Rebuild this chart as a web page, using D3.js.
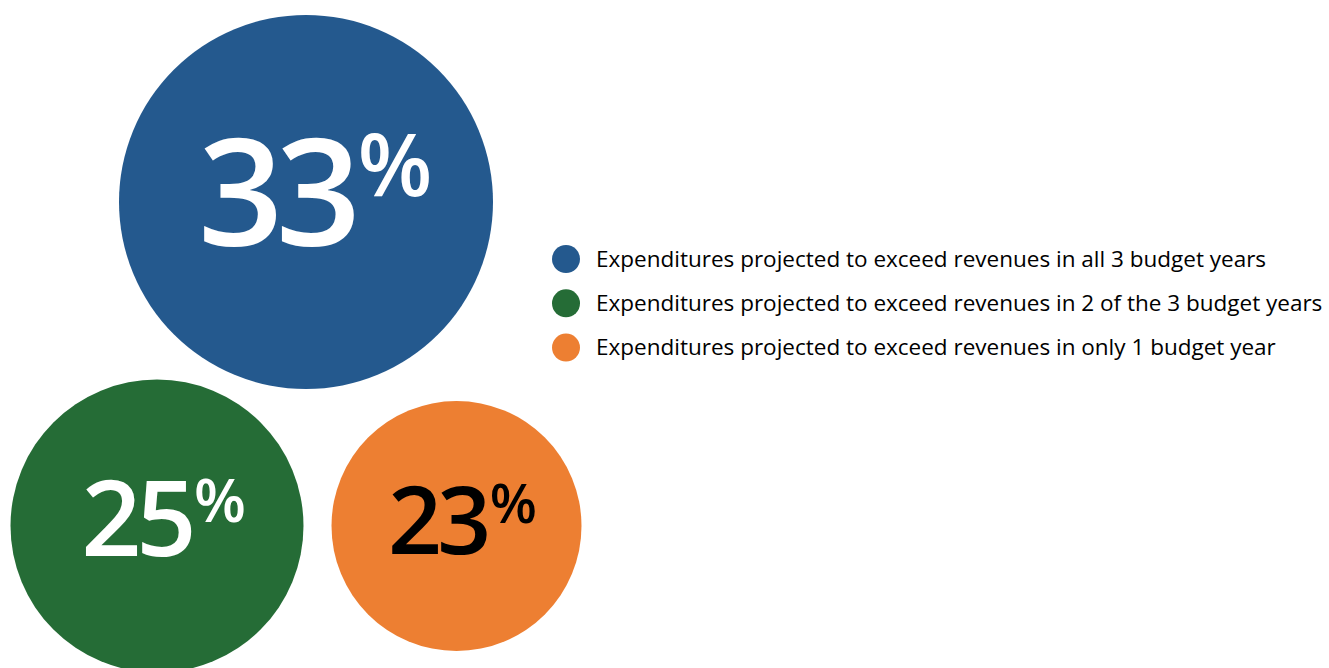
<!DOCTYPE html>
<html>
<head>
<meta charset="utf-8">
<script src="https://cdn.jsdelivr.net/npm/d3@7"></script>
<style>
  html, body { margin: 0; padding: 0; background: #ffffff; }
  svg { display: block; }
</style>
</head>
<body>
<svg id="chart" width="1329" height="668"></svg>
<script>
// Share of budgets where expenditures exceed revenues
const categories = [
  "Expenditures projected to exceed revenues in all 3 budget years",
  "Expenditures projected to exceed revenues in 2 of the 3 budget years",
  "Expenditures projected to exceed revenues in only 1 budget year"
];
const values = [33, 25, 23];
const colors = ["#24598e", "#256c36", "#ed7f32"];
const labelColors = ["#ffffff", "#ffffff", "#000000"];

const svg = d3.select("#chart");
const NUM_FONT = "'Open Sans', sans-serif";
const NUM_WEIGHT = 600;

// bubble radius and label digit height from the percentage
const rScale = d3.scaleLinear().domain([23, 25, 33]).range([125, 146.5, 187]);
const digitScale = d3.scaleLinear().domain([23, 25, 33]).range([69, 76, 109]);

// bubble placement: largest on top, the other two side by side below it
const centers = [
  { x: 306, y: 202 },
  { x: 157, y: 526 },
  { x: 456.5, y: 526 }
];

const data = values.map((v, i) => ({
  value: v, cat: categories[i], color: colors[i], label: labelColors[i],
  cx: centers[i].x, cy: centers[i].y, r: rScale(v), h: digitScale(v)
}));

// ink metrics for exact glyph placement
const ctx = document.createElement("canvas").getContext("2d");
function ink(str, size) {
  ctx.font = `${NUM_WEIGHT} ${size}px ${NUM_FONT}`;
  const m = ctx.measureText(str);
  return { left: m.actualBoundingBoxLeft, right: m.actualBoundingBoxRight,
           ascent: m.actualBoundingBoxAscent };
}

const bubbles = svg.append("g").attr("class", "bubbles")
  .selectAll("g").data(data).join("g")
  .attr("transform", d => `translate(${d.cx},${d.cy})`);

bubbles.append("circle")
  .attr("r", d => d.r)
  .attr("fill", d => d.color);

bubbles.each(function(d) {
  const g = d3.select(this);
  const str = String(d.value);
  // font size so that the digits reach the wanted cap height
  const probe = ink(str, 100);
  const numSize = 100 * d.h / probe.ascent;
  const num = ink(str, numSize);
  const pctH = d.h * 0.57;
  const pprobe = ink("%", 100);
  const pctSize = 100 * pctH / pprobe.ascent;
  const pct = ink("%", pctSize);

  // tighter spacing between the digits
  const track = -d.h * 0.07;
  const numW = num.left + num.right + track * (str.length - 1);
  const pctW = pct.left + pct.right;
  const gap = d.h * 0.065;
  const total = numW + gap + pctW;
  const inkLeft = d.h * 0.1 - total / 2;
  const baseline = d.h * 0.4;
  const digitTop = baseline - d.h;

  g.append("text")
    .attr("x", inkLeft + num.left)
    .attr("y", baseline)
    .attr("font-family", NUM_FONT)
    .attr("font-weight", NUM_WEIGHT)
    .attr("font-size", numSize)
    .attr("letter-spacing", track)
    .attr("fill", d.label)
    .text(str);

  g.append("text")
    .attr("x", inkLeft + numW + gap + pct.left)
    .attr("y", digitTop - d.h * 0.03 + pct.ascent)
    .attr("font-family", NUM_FONT)
    .attr("font-weight", NUM_WEIGHT)
    .attr("font-size", pctSize)
    .attr("fill", d.label)
    .text("%");
});

// legend
const legend = svg.append("g").attr("class", "legend")
  .attr("transform", "translate(566,259)");

const items = legend.selectAll("g").data(data).join("g")
  .attr("transform", (d, i) => `translate(0,${i * 44.3})`);

items.append("circle")
  .attr("r", 14)
  .attr("fill", d => d.color);

items.append("text")
  .attr("x", 30)
  .attr("y", 7.5)
  .attr("font-family", "'Open Sans', sans-serif")
  .attr("font-size", 22.5)
  .attr("fill", "#000000")
  .text(d => d.cat);
</script>
</body>
</html>
